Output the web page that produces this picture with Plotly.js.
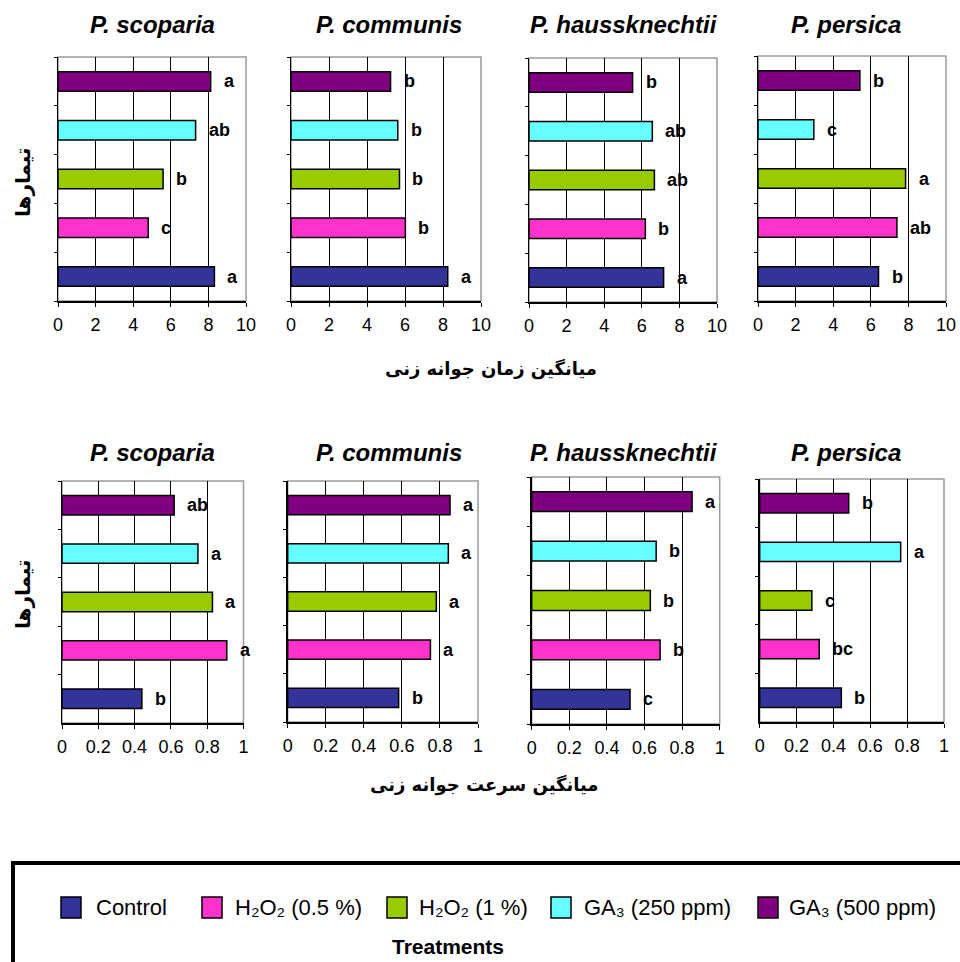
<!DOCTYPE html>
<html><head><meta charset="utf-8">
<script src="https://cdn.plot.ly/plotly-3.0.1.min.js"></script>
<style>html,body{margin:0;padding:0;background:#fff}</style>
</head><body><div id="chart" style="width:960px;height:962px"></div>
<script>
// ---------------- DATA ----------------
const treatments = ["Control", "H2O2 (0.5 %)", "H2O2 (1 %)", "GA3 (250 ppm)", "GA3 (500 ppm)"];
const treatmentLabels = ["Control", "H\u2082O\u2082 (0.5 %)", "H\u2082O\u2082 (1 %)", "GA\u2083 (250 ppm)", "GA\u2083 (500 ppm)"];
const species = ["P. scoparia", "P. communis", "P. haussknechtii", "P. persica"];

// Mean germination time (top row), order = treatments
const timeScoparia      = [8.32, 4.80, 5.59, 7.32, 8.12];
const timeCommunis      = [8.25, 6.02, 5.71, 5.62, 5.24];
const timeHaussknechtii = [7.16, 6.19, 6.67, 6.56, 5.51];
const timePersica       = [6.41, 7.39, 7.85, 2.97, 5.42];
const timeLettersScoparia      = ["a", "c", "b", "ab", "a"];
const timeLettersCommunis      = ["a", "b", "b", "b", "b"];
const timeLettersHaussknechtii = ["a", "b", "ab", "ab", "b"];
const timeLettersPersica       = ["b", "ab", "a", "c", "b"];

// Mean germination rate (bottom row)
const rateScoparia      = [0.440, 0.908, 0.829, 0.749, 0.618];
const rateCommunis      = [0.583, 0.750, 0.781, 0.844, 0.853];
const rateHaussknechtii = [0.523, 0.683, 0.631, 0.662, 0.853];
const ratePersica       = [0.443, 0.323, 0.283, 0.765, 0.483];
const rateLettersScoparia      = ["b", "a", "a", "a", "ab"];
const rateLettersCommunis      = ["b", "a", "a", "a", "a"];
const rateLettersHaussknechtii = ["c", "b", "b", "b", "a"];
const rateLettersPersica       = ["b", "bc", "c", "a", "b"];

const timeTicks = [0, 2, 4, 6, 8, 10];
const rateTicks = [0, 0.2, 0.4, 0.6, 0.8, 1];
const rateTickText = ["0", "0.2", "0.4", "0.6", "0.8", "1"];

const yTitle = "تیمارها";
const timeTitle = "میانگین زمان جوانه زنی";
const rateTitle = "میانگین سرعت جوانه زنی";
const legendTitle = "Treatments";

// ---------------- STYLE / LAYOUT ----------------
const colors = ["#333399", "#FF33CC", "#99CC00", "#66FFFF", "#800080"];
const W = 960, H = 962;
const px = v => v / W;
const py = v => 1 - v / H;

const timeSeries = [timeScoparia, timeCommunis, timeHaussknechtii, timePersica];
const timeLetters = [timeLettersScoparia, timeLettersCommunis, timeLettersHaussknechtii, timeLettersPersica];
const rateSeries = [rateScoparia, rateCommunis, rateHaussknechtii, ratePersica];
const rateLetters = [rateLettersScoparia, rateLettersCommunis, rateLettersHaussknechtii, rateLettersPersica];

// panel pixel boxes [x0, x1, yTop, yBottom]
const topBoxes = [[58, 246, 57, 301], [291, 481, 57, 301], [529, 717, 58, 302], [758, 946, 56, 301]];
const botBoxes = [[62, 243.5, 481, 723], [287.7, 478, 481, 722], [531.7, 719.7, 477, 724], [759.7, 944, 479, 722]];
const titleX = [152, 389, 624, 846];

const FONT = "Liberation Sans, Arial, sans-serif";
const traces = [], shapes = [], annotations = [];
const layout = {
  width: W, height: H, margin: {l: 0, r: 0, t: 0, b: 0},
  paper_bgcolor: "#fff", plot_bgcolor: "#fff", showlegend: false,
  font: {family: FONT, color: "#000"}, bargap: 0.6
};

function addPanel(idx, box, vals, letters, range, ticks, tickText) {
  const n = idx === 0 ? "" : String(idx + 1);
  const xa = "x" + n, ya = "y" + n;
  layout["xaxis" + n] = {
    domain: [px(box[0]), px(box[1])], anchor: ya, range: range,
    tickmode: "array", tickvals: ticks, ticktext: tickText,
    showgrid: true, gridcolor: "#000", gridwidth: 1,
    showline: true, linecolor: "#000", linewidth: 1.5,
    ticks: "outside", ticklen: 4, tickcolor: "#000", tickwidth: 1,
    tickfont: {size: 18, family: FONT, color: "#000"}, ticklabelstandoff: 3,
    zeroline: false, fixedrange: true
  };
  layout["yaxis" + n] = {
    domain: [py(box[3]), py(box[2])], anchor: xa, type: "category",
    categoryorder: "array", categoryarray: treatments,
    showline: true, linecolor: "#000", linewidth: 1.5,
    ticks: "outside", tickson: "boundaries", ticklen: 3, tickcolor: "#000",
    showticklabels: false, showgrid: false, zeroline: false, fixedrange: true
  };
  traces.push({
    type: "bar", orientation: "h", x: vals, y: treatments, xaxis: xa, yaxis: ya,
    width: 0.4,
    marker: {color: colors, line: {color: "#000", width: 1.5}},
    hoverinfo: "x+y"
  });
  shapes.push({type: "rect", xref: xa + " domain", yref: ya + " domain", x0: 0, x1: 1, y0: 0, y1: 1,
    line: {color: "#9a9a9a", width: 1.5}, fillcolor: "rgba(0,0,0,0)", layer: "below"});
  vals.forEach((v, i) => annotations.push({
    xref: xa, yref: ya, x: v, y: treatments[i], text: "<b>" + letters[i] + "</b>",
    showarrow: false, xanchor: "left", yanchor: "middle", xshift: 11,
    font: {size: 18, family: FONT, color: "#000"}
  }));
}

for (let i = 0; i < 4; i++) {
  addPanel(i, topBoxes[i], timeSeries[i], timeLetters[i], [0, 10], timeTicks, timeTicks.map(String));
  addPanel(i + 4, botBoxes[i], rateSeries[i], rateLetters[i], [0, 1], rateTicks, rateTickText);
  annotations.push({xref: "paper", yref: "paper", x: px(titleX[i]), y: py(24), text: "<b><i>" + species[i] + "</i></b>",
    showarrow: false, xanchor: "center", yanchor: "middle", font: {size: 24, family: FONT, color: "#000"}});
  annotations.push({xref: "paper", yref: "paper", x: px(titleX[i]), y: py(452), text: "<b><i>" + species[i] + "</i></b>",
    showarrow: false, xanchor: "center", yanchor: "middle", font: {size: 24, family: FONT, color: "#000"}});
}

// axis titles
const arabicFont = "DejaVu Sans, Noto Sans, sans-serif";
[183, 595].forEach(yy => annotations.push({xref: "paper", yref: "paper", x: px(23), y: py(yy), text: "<b>" + yTitle + "</b>",
  textangle: -90, showarrow: false, xanchor: "center", yanchor: "middle", font: {size: 20, family: arabicFont, color: "#000"}}));
annotations.push({xref: "paper", yref: "paper", x: px(491), y: py(369), text: "<b>" + timeTitle + "</b>",
  showarrow: false, xanchor: "center", yanchor: "middle", font: {size: 18, family: arabicFont, color: "#000"}});
annotations.push({xref: "paper", yref: "paper", x: px(484), y: py(785), text: "<b>" + rateTitle + "</b>",
  showarrow: false, xanchor: "center", yanchor: "middle", font: {size: 18, family: arabicFont, color: "#000"}});

// legend box
shapes.push({type: "rect", xref: "paper", yref: "paper", x0: px(13), x1: px(975), y0: py(985), y1: py(863),
  line: {color: "#000", width: 4}, fillcolor: "rgba(0,0,0,0)"});
const swatchX = [61, 202, 387, 551, 758];
const labelX = [94, 233, 417, 582, 787];
treatments.forEach((t, i) => {
  shapes.push({type: "rect", xref: "paper", yref: "paper", x0: px(swatchX[i]), x1: px(swatchX[i] + 20), y0: py(918), y1: py(897),
    fillcolor: colors[i], line: {color: "#000", width: 1.5}});
  annotations.push({xref: "paper", yref: "paper", x: px(labelX[i]), y: py(907.5), text: treatmentLabels[i],
    showarrow: false, xanchor: "left", yanchor: "middle", font: {size: 22, family: FONT, color: "#000"}});
});
annotations.push({xref: "paper", yref: "paper", x: px(448), y: py(946), text: "<b>" + legendTitle + "</b>",
  showarrow: false, xanchor: "center", yanchor: "middle", font: {size: 21, family: FONT, color: "#000"}});

layout.shapes = shapes;
layout.annotations = annotations;
Plotly.newPlot("chart", traces, layout, {displayModeBar: false, staticPlot: true});
</script></body></html>
